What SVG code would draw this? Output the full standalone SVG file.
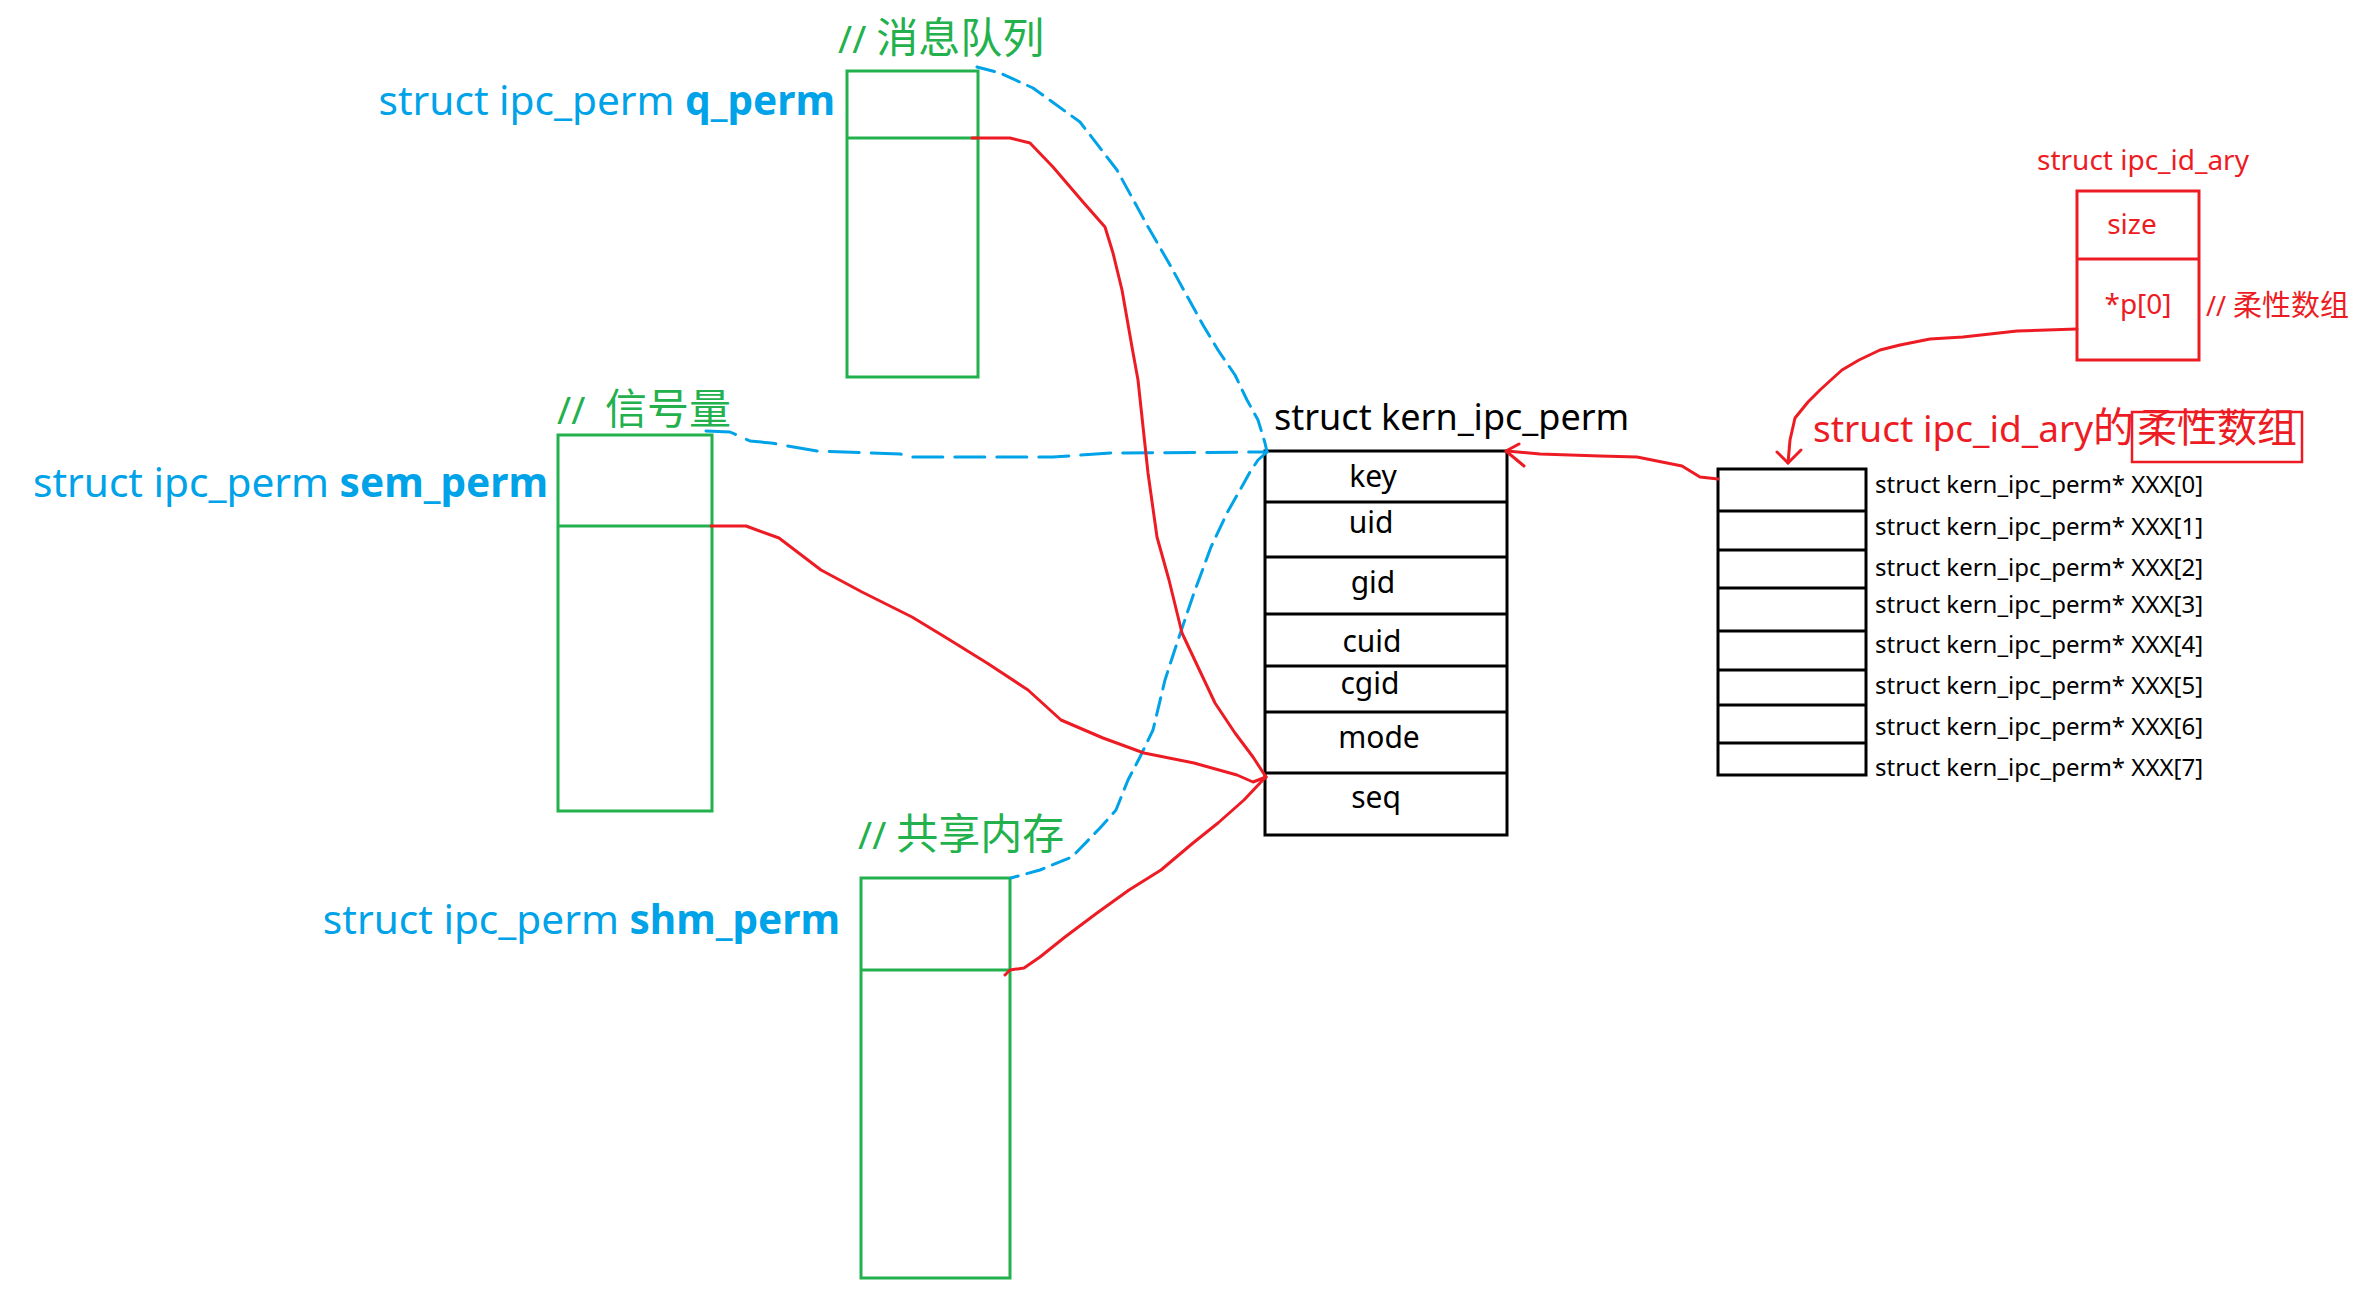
<svg xmlns="http://www.w3.org/2000/svg" width="2355" height="1297" viewBox="0 0 2355 1297">
<style>
text{font-family:"Noto Sans","Noto Sans CJK SC",sans-serif}
.g{fill:#22b14c}
.b{fill:#00a2e8}
.r{fill:#ed1c24}
.k{fill:#000}
.gbox{fill:none;stroke:#22b14c;stroke-width:3}
.kbox{fill:none;stroke:#000;stroke-width:3}
.rbox{fill:none;stroke:#ed1c24;stroke-width:3}
.bl{fill:none;stroke:#00a2e8;stroke-width:3;stroke-linejoin:round;stroke-linecap:round}
.rl{fill:none;stroke:#ed1c24;stroke-width:3;stroke-linejoin:round;stroke-linecap:round}
.lbl{font-size:40.6px}
.cm{font-size:38px}
.cj{font-size:42px}
.fld{font-size:30px;text-anchor:middle}
.arr{font-size:24px}
</style>
<rect width="2355" height="1297" fill="#fff"/>

<g id="msg_queue">
<text class="g cm" x="838" y="53">// <tspan class="cj">消息队列</tspan></text>
<text class="b lbl" x="835" y="115" text-anchor="end">struct ipc_perm <tspan font-weight="bold">q_perm</tspan></text>
<rect class="gbox" x="847" y="71" width="131" height="306"/>
<line class="gbox" x1="847" y1="138" x2="978" y2="138"/>
</g>

<g id="semaphore">
<text class="g cm" x="557" y="424">//&#160; <tspan class="cj">信号量</tspan></text>
<text class="b lbl" x="548" y="497" text-anchor="end">struct ipc_perm <tspan font-weight="bold">sem_perm</tspan></text>
<rect class="gbox" x="558" y="435" width="154" height="376"/>
<line class="gbox" x1="558" y1="526" x2="712" y2="526"/>
</g>

<g id="shared_mem">
<text class="g cm" x="858" y="849">// <tspan class="cj">共享内存</tspan></text>
<text class="b lbl" x="840" y="934" text-anchor="end">struct ipc_perm <tspan font-weight="bold">shm_perm</tspan></text>
<rect class="gbox" x="861" y="878" width="149" height="400"/>
<line class="gbox" x1="861" y1="970" x2="1010" y2="970"/>
</g>

<g id="kern_ipc_perm">
<text class="k" x="1274" y="430" font-size="36">struct kern_ipc_perm</text>
<rect class="kbox" x="1265" y="451" width="242" height="384"/>
<line class="kbox" x1="1265" y1="502" x2="1507" y2="502"/>
<line class="kbox" x1="1265" y1="557" x2="1507" y2="557"/>
<line class="kbox" x1="1265" y1="614" x2="1507" y2="614"/>
<line class="kbox" x1="1265" y1="666" x2="1507" y2="666"/>
<line class="kbox" x1="1265" y1="712" x2="1507" y2="712"/>
<line class="kbox" x1="1265" y1="773" x2="1507" y2="773"/>
<text class="k fld" x="1373" y="487">key</text>
<text class="k fld" x="1371" y="533">uid</text>
<text class="k fld" x="1373" y="593">gid</text>
<text class="k fld" x="1372" y="652">cuid</text>
<text class="k fld" x="1370" y="694">cgid</text>
<text class="k fld" x="1379" y="748">mode</text>
<text class="k fld" x="1376" y="808">seq</text>
</g>

<g id="ipc_id_ary">
<text class="r" x="2037" y="170" font-size="28">struct ipc_id_ary</text>
<rect class="rbox" x="2077" y="191" width="122" height="169"/>
<line class="rbox" x1="2077" y1="259" x2="2199" y2="259"/>
<text class="r" x="2132" y="234" font-size="28" text-anchor="middle">size</text>
<text class="r" x="2138" y="314" font-size="28" text-anchor="middle">*p[0]</text>
<text class="r" x="2206" y="316" font-size="27">// <tspan font-size="29">柔性数组</tspan></text>
</g>

<g id="flex_array">
<text class="r" x="1813" y="442" font-size="37">struct ipc_id_ary<tspan font-size="41">的</tspan><tspan font-size="40" dx="3">柔性数组</tspan></text>
<rect x="2132" y="412" width="170" height="50" fill="none" stroke="#ed1c24" stroke-width="2.5"/>
<rect class="kbox" x="1718" y="469" width="148" height="306"/>
<line class="kbox" x1="1718" y1="511" x2="1866" y2="511"/>
<line class="kbox" x1="1718" y1="550" x2="1866" y2="550"/>
<line class="kbox" x1="1718" y1="588" x2="1866" y2="588"/>
<line class="kbox" x1="1718" y1="631" x2="1866" y2="631"/>
<line class="kbox" x1="1718" y1="670" x2="1866" y2="670"/>
<line class="kbox" x1="1718" y1="705" x2="1866" y2="705"/>
<line class="kbox" x1="1718" y1="743" x2="1866" y2="743"/>
<text class="k arr" x="1875" y="493">struct kern_ipc_perm* XXX[0]</text>
<text class="k arr" x="1875" y="535">struct kern_ipc_perm* XXX[1]</text>
<text class="k arr" x="1875" y="576">struct kern_ipc_perm* XXX[2]</text>
<text class="k arr" x="1875" y="613">struct kern_ipc_perm* XXX[3]</text>
<text class="k arr" x="1875" y="653">struct kern_ipc_perm* XXX[4]</text>
<text class="k arr" x="1875" y="694">struct kern_ipc_perm* XXX[5]</text>
<text class="k arr" x="1875" y="735">struct kern_ipc_perm* XXX[6]</text>
<text class="k arr" x="1875" y="776">struct kern_ipc_perm* XXX[7]</text>
</g>

<g id="connectors">
<polyline class="bl" stroke-dasharray="18 9" points="977,67 1000,73 1033,88 1080,122 1117,170 1147,225 1170,265 1203,325 1218,350 1235,375 1247,400 1258,420 1265,443 1267,452"/>
<polyline class="bl" stroke-dasharray="30 12" points="706,431 730,432 750,441 771,443 817,451 900,454 912,457 1053,457 1111,453 1267,452"/>
<polyline class="bl" stroke-dasharray="18 9" points="1267,452 1258,460 1250,472 1240,490 1227,513 1211,547 1194,593 1177,643 1165,680 1153,730 1140,757 1128,780 1116,810 1100,828 1072,857 1040,870 1011,878"/>
<polyline class="rl" points="972,138 1010,138 1030,143 1053,167 1083,202 1105,227 1113,253 1122,290 1132,347 1138,380 1148,473 1157,537 1169,580 1182,633 1198,667 1215,703 1235,733 1253,757 1266,777"/>
<polyline class="rl" points="711,526 746,526 779,538 821,570 862,592 912,617 945,637 987,663 1028,690 1061,720 1103,738 1144,753 1194,763 1237,775 1253,782 1266,777"/>
<polyline class="rl" points="1005,975 1010,970 1024,968 1040,957 1065,937 1097,913 1129,890 1161,870 1193,843 1218,823 1244,800 1260,783 1266,777"/>
<polyline class="rl" points="1718,479 1700,477 1682,466 1637,457 1600,456 1540,454 1507,451"/>
<polyline class="rl" points="1519,444 1506,451 1524,466"/>
<polyline class="rl" points="2077,329 2017,331 1963,337 1930,339 1900,345 1880,350 1859,360 1842,370 1832,379 1820,390 1808,402 1795,418 1790,440 1788,463"/>
<polyline class="rl" points="1777,452 1788,463 1801,450"/>
</g>
</svg>
